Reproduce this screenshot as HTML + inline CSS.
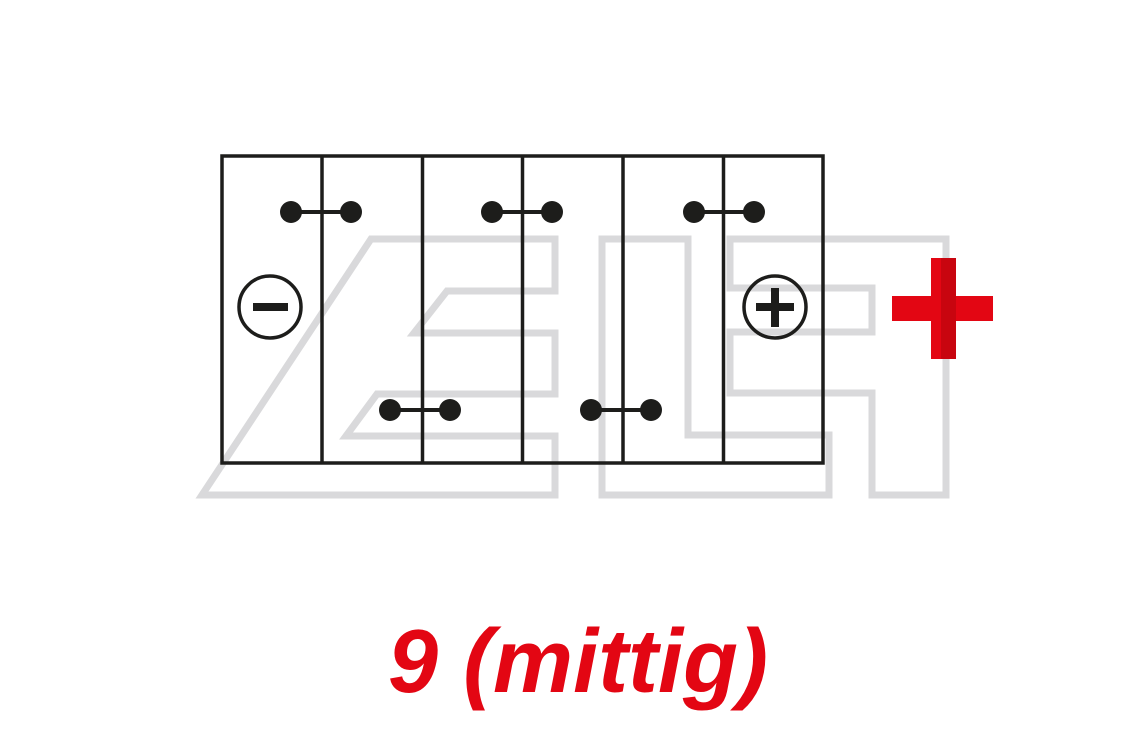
<!DOCTYPE html>
<html><head><meta charset="utf-8"><style>
html,body{margin:0;padding:0;background:#fff;}
body{width:1146px;height:736px;overflow:hidden;position:relative;}
svg{position:absolute;left:0;top:0;}
</style></head><body>
<svg width="1146" height="736" viewBox="0 0 1146 736" xmlns="http://www.w3.org/2000/svg">
<g fill="none" stroke="#d9d9db" stroke-width="7" stroke-linejoin="miter">
<polygon points="371,239 555,239 555,291 447,291 414,333 555,333 555,394 377,394 346,436 555,436 555,495 202,495"/>
<polygon points="602,239 688,239 688,435 829,435 829,495 602,495"/>
<polygon points="730,239 946,239 946,495 872,495 872,393 730,393 730,332 872,332 872,288 730,288"/>
</g>
<g stroke="#1d1d1b" stroke-width="3.5" fill="none">
<rect x="222" y="156" width="601" height="307"/>
<line x1="322" y1="156" x2="322" y2="463"/>
<line x1="422.5" y1="156" x2="422.5" y2="463"/>
<line x1="522.5" y1="156" x2="522.5" y2="463"/>
<line x1="623" y1="156" x2="623" y2="463"/>
<line x1="723.5" y1="156" x2="723.5" y2="463"/>
<circle cx="270" cy="307" r="31"/>
<circle cx="775" cy="307" r="31"/>
</g>
<g stroke="#1d1d1b" stroke-width="4">
<line x1="291" y1="212" x2="351" y2="212"/>
<line x1="492" y1="212" x2="552" y2="212"/>
<line x1="694" y1="212" x2="754" y2="212"/>
<line x1="390" y1="410" x2="450" y2="410"/>
<line x1="591" y1="410" x2="651" y2="410"/>
</g>
<g fill="#1d1d1b">
<circle cx="291" cy="212" r="11"/><circle cx="351" cy="212" r="11"/>
<circle cx="492" cy="212" r="11"/><circle cx="552" cy="212" r="11"/>
<circle cx="694" cy="212" r="11"/><circle cx="754" cy="212" r="11"/>
<circle cx="390" cy="410" r="11"/><circle cx="450" cy="410" r="11"/>
<circle cx="591" cy="410" r="11"/><circle cx="651" cy="410" r="11"/>
<rect x="253" y="303" width="35" height="8"/>
<rect x="756" y="303" width="38" height="8"/>
<rect x="771" y="288" width="8" height="39"/>
</g>
<rect x="892" y="296" width="101" height="25" fill="#e30613"/>
<rect x="931" y="258" width="25" height="101" fill="#e30613"/>
<rect x="941" y="258" width="15" height="101" fill="#c8050f"/>
<text x="578" y="692" text-anchor="middle" font-family="Liberation Sans, sans-serif" font-weight="bold" font-style="italic" font-size="90" fill="#e30613">9 (mittig)</text>
</svg>
</body></html>
